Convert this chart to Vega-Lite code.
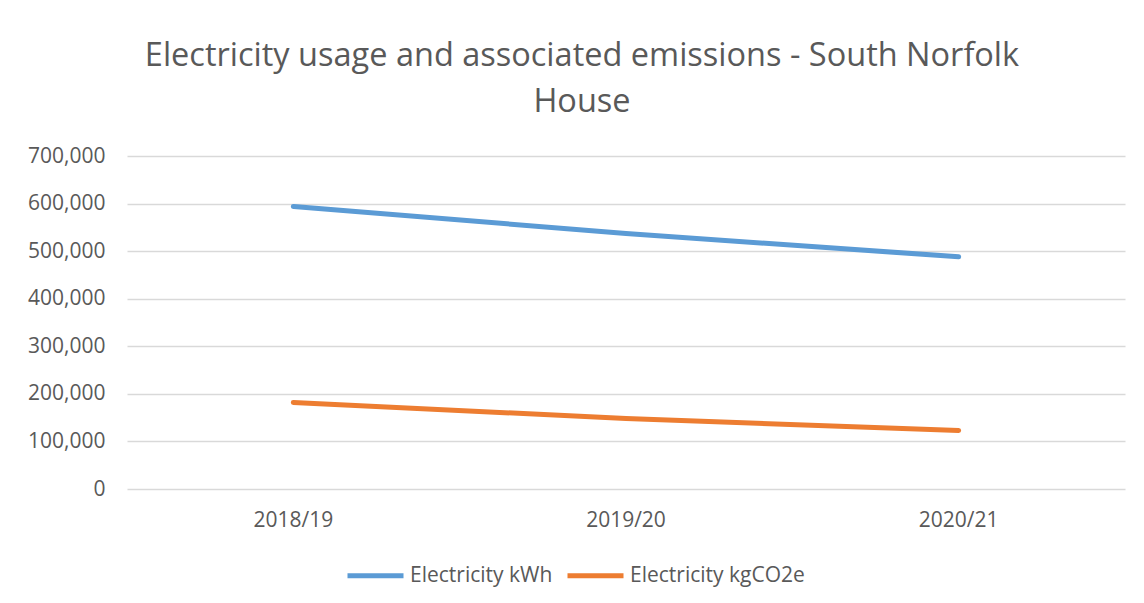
{
  "$schema": "https://vega.github.io/schema/vega-lite/v6.json",
  "width": 998,
  "height": 333,
  "autosize": {"type": "none"},
  "padding": {"left": 127, "top": 156, "right": 19, "bottom": 114},
  "background": "white",
  "title": {
    "text": ["Electricity usage and associated emissions - South Norfolk", "House"],
    "font": "Open Sans",
    "fontSize": 32.5,
    "fontWeight": "normal",
    "color": "#595959",
    "anchor": "middle",
    "frame": "group",
    "dx": -44,
    "offset": 27,
    "lineHeight": 46
  },
  "config": {
    "view": {"stroke": null},
    "font": "Open Sans"
  },
  "data": {
    "values": [
      {"year": "2018/19", "series": "Electricity kWh", "value": 594000},
      {"year": "2019/20", "series": "Electricity kWh", "value": 537000},
      {"year": "2020/21", "series": "Electricity kWh", "value": 488000},
      {"year": "2018/19", "series": "Electricity kgCO2e", "value": 182000},
      {"year": "2019/20", "series": "Electricity kgCO2e", "value": 148000},
      {"year": "2020/21", "series": "Electricity kgCO2e", "value": 123000}
    ]
  },
  "mark": {"type": "line", "strokeWidth": 5, "strokeCap": "round", "strokeJoin": "round", "interpolate": "monotone"},
  "encoding": {
    "x": {
      "field": "year",
      "type": "ordinal",
      "scale": {"type": "band", "paddingInner": 0, "paddingOuter": 0},
      "axis": {
        "title": null,
        "labelAngle": 0,
        "labelFont": "Open Sans",
        "labelFontSize": 21,
        "labelColor": "#595959",
        "labelPadding": 20,
        "ticks": false,
        "domain": false,
        "grid": false
      }
    },
    "y": {
      "field": "value",
      "type": "quantitative",
      "scale": {"domain": [0, 700000], "nice": false},
      "axis": {
        "title": null,
        "values": [0, 100000, 200000, 300000, 400000, 500000, 600000, 700000],
        "format": ",d",
        "labelFont": "Open Sans",
        "labelFontSize": 21,
        "labelColor": "#595959",
        "labelPadding": 22,
        "ticks": false,
        "domain": false,
        "grid": true,
        "gridColor": "#D9D9D9",
        "gridWidth": 1.5
      }
    },
    "color": {
      "field": "series",
      "type": "nominal",
      "scale": {"domain": ["Electricity kWh", "Electricity kgCO2e"], "range": ["#5B9BD5", "#ED7D31"]},
      "legend": {
        "title": null,
        "orient": "none",
        "direction": "horizontal",
        "legendX": 218,
        "legendY": 389,
        "symbolType": "stroke",
        "symbolSize": 3136,
        "symbolStrokeWidth": 5,
        "labelFont": "Open Sans",
        "labelFontSize": 21,
        "labelColor": "#595959",
        "labelOffset": 4,
        "labelLimit": 0,
        "columnPadding": 4
      }
    }
  }
}
